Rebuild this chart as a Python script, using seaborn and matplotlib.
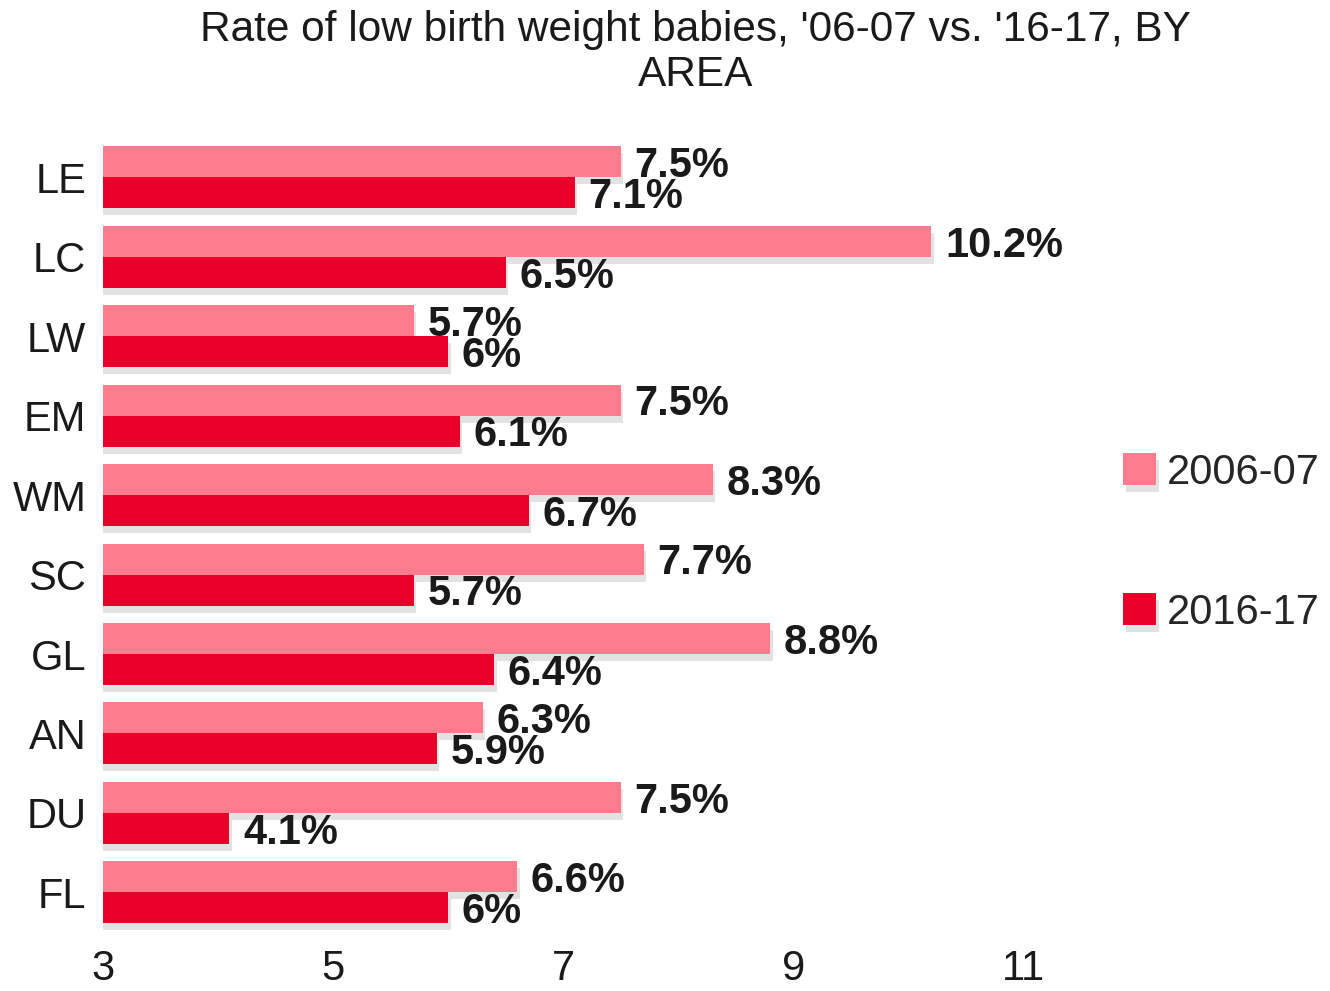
import matplotlib
matplotlib.use("Agg")
import matplotlib.pyplot as plt
import matplotlib.patheffects as pe
import seaborn as sns
import pandas as pd

# Areas, top to bottom
areas = ["LE", "LC", "LW", "EM", "WM", "SC", "GL", "AN", "DU", "FL"]
rate_2006_07 = [7.5, 10.2, 5.7, 7.5, 8.3, 7.7, 8.8, 6.3, 7.5, 6.6]
rate_2016_17 = [7.1, 6.5, 6.0, 6.1, 6.7, 5.7, 6.4, 5.9, 4.1, 6.0]
periods = ["2006-07", "2016-17"]
x_ticks = [3, 5, 7, 9, 11]
colors = ["#FF7C8E", "#E8002B"]

df = pd.DataFrame({
    "area": areas * 2,
    "period": [periods[0]] * len(areas) + [periods[1]] * len(areas),
    "rate": rate_2006_07 + rate_2016_17,
})

sns.set_theme(style="white")
plt.rcParams["font.family"] = ["Liberation Sans", "DejaVu Sans"]

fig = plt.figure(figsize=(13.3, 9.91), dpi=100)
ax = fig.add_axes([0.0774, 0.0595, 0.692, 0.8015])

sns.barplot(data=df, y="area", x="rate", hue="period", order=areas,
            hue_order=periods, palette=colors, orient="h", width=0.78,
            saturation=1, linewidth=0, ax=ax, legend=True)

shadow = [pe.SimplePatchShadow(offset=(2, -5), shadow_rgbFace="#a0a0a0", alpha=0.3),
          pe.Normal()]
for patch in ax.patches:
    patch.set_path_effects(shadow)

for cont in ax.containers:
    labels = [f"{v:g}%" for v in cont.datavalues]
    texts = ax.bar_label(cont, labels=labels, padding=10, fontsize=30,
                         fontweight="bold", color="#1a1a1a")
    for t in texts:
        dx, dy = t.xyann
        t.xyann = (dx, dy - 3)

ax.set_xlim(3, 11)
ax.set_xticks(x_ticks)
ax.set_xticklabels([str(t) for t in x_ticks])
ax.set_xlabel("")
ax.set_ylabel("")
ax.tick_params(axis="both", length=0, labelsize=30, colors="#1a1a1a")
ax.tick_params(axis="y", pad=12)
ax.tick_params(axis="x", pad=12)
for s in ax.spines.values():
    s.set_visible(False)

handles, labs = ax.get_legend_handles_labels()
leg = ax.legend(handles, labs, loc="center left", bbox_to_anchor=(1.09, 0.49),
                frameon=False, fontsize=30, handlelength=0.8, handleheight=0.8,
                handletextpad=0.25, labelspacing=2.4, borderaxespad=0)
for h in leg.legend_handles:
    h.set_path_effects(shadow)

fig.text(0.523, 0.99, "Rate of low birth weight babies, '06-07 vs. '16-17, BY\nAREA",
         ha="center", va="top", fontsize=30.5, color="#1a1a1a", linespacing=1.15)

fig.savefig("out.png", dpi=100, facecolor="white")
